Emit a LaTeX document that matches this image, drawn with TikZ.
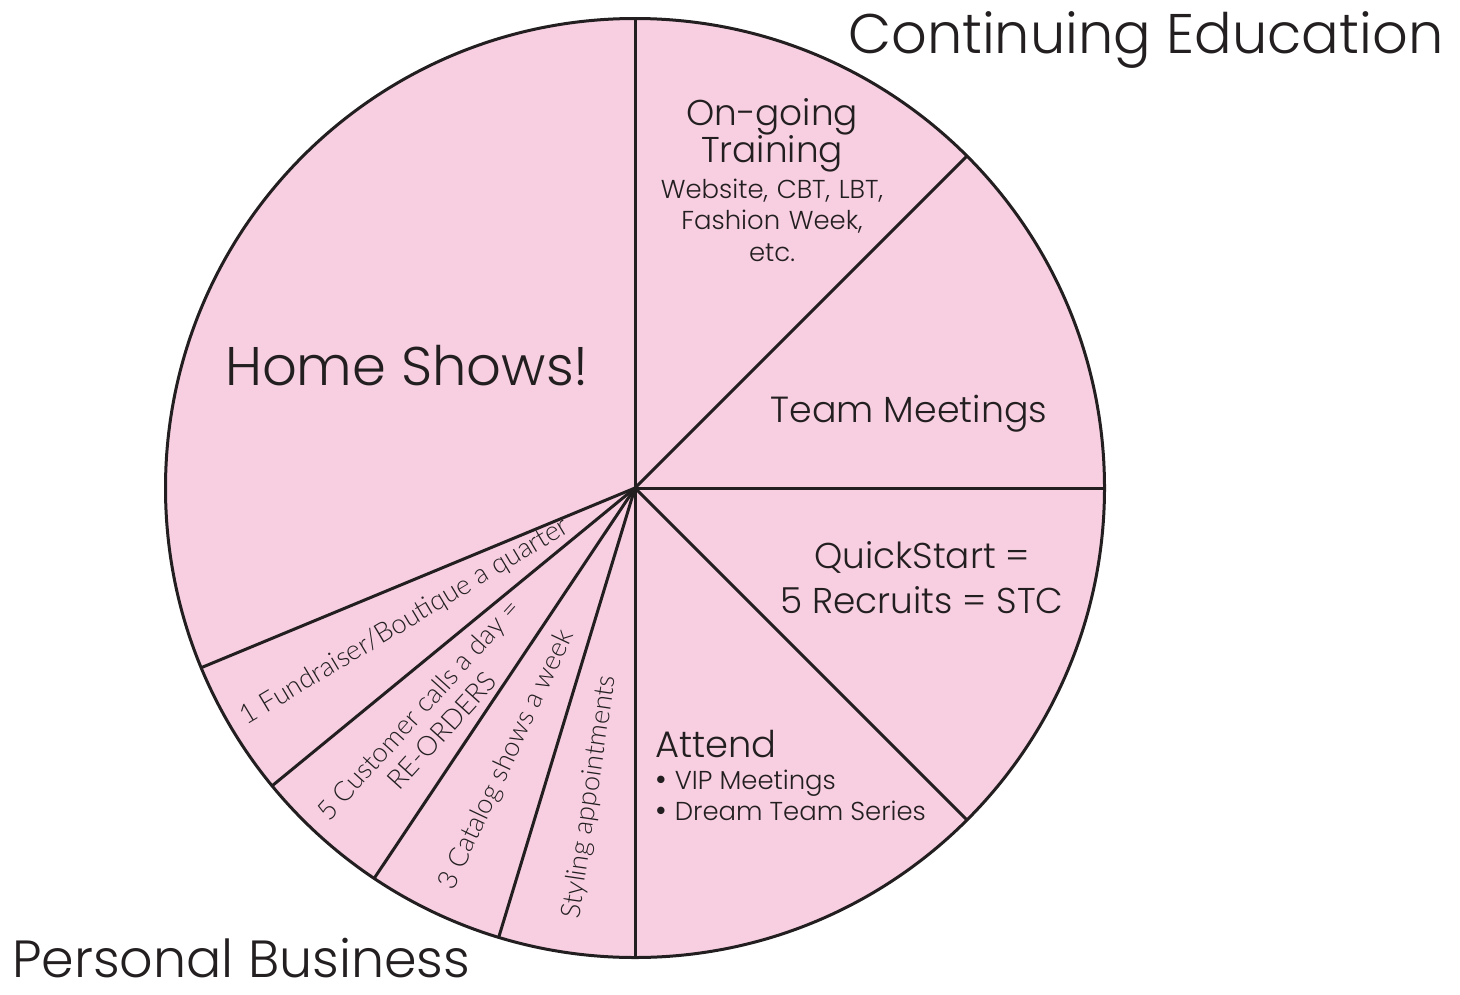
\documentclass[tikz,border=0pt]{standalone}
\usepackage{fontspec}
\setmainfont{Poppins}[UprightFont=* Light]
\newfontfamily\humfont{Lato}[UprightFont=* Light]
\usetikzlibrary{calc}
\definecolor{piepink}{RGB}{247,207,225}
\definecolor{ink}{RGB}{35,31,32}
\newcommand{\fs}[1]{\fontsize{#1}{1.1\dimexpr#1pt\relax}\selectfont}
\newcommand{\bulletitem}{{\fontsize{32}{32}\selectfont\raisebox{-1.5bp}{\textbullet}}\hspace{8bp}}
\begin{document}
\begin{tikzpicture}[x=1bp,y=1bp,
  wedge/.style={draw=ink,line width=3bp},
  txt/.style={text=ink,inner sep=0pt,align=center},
  slim/.style={txt,font=\humfont\fs{27.3}}]
\useasboundingbox (0,0) rectangle (1460,-994);
\coordinate (c) at (635,-488);
% pie body and slice borders
\fill[piepink] (c) circle[radius=469.5];
\foreach \a in {90,45,0,-45,-90,-106.875,-123.75,-140.625,-157.5}
  \draw[wedge] (c) -- ++(\a:469.5);
\draw[wedge] (c) circle[radius=469.5];

% headings
\node[txt,anchor=base west,font=\fs{56}] (ce) at (848,-53) {Continuing Education};
\node[txt,anchor=base west,font=\fs{52.5}] (pb) at (12,-977) {Personal Business};

% large slices
\node[txt,anchor=base,font=\fs{54.6}] (home) at (407,-385) {Home Shows!};
\node[txt,anchor=base,font=\fs{36},text width=260bp] (train) at (772,-125)
  {On-going\\[-1.6bp]Training};
\node[txt,anchor=base,font=\fs{26},text width=260bp] (web) at (772,-198)
  {Website, CBT, LBT,\\[3.4bp]Fashion Week,\\[3.4bp]etc.};
\node[txt,anchor=base,font=\fs{36.5}] (team) at (909,-422) {Team Meetings};
\node[txt,anchor=base,font=\fs{36}] (qs) at (922,-568) {QuickStart =};
\node[txt,anchor=base,font=\fs{36}] (rec) at (922,-613) {5 Recruits = STC};
\node[txt,anchor=base west,font=\fs{37}] (att) at (655,-757) {Attend};
\node[txt,anchor=base west,font=\fs{26}] (vip) at (655,-789)
  {\bulletitem VIP Meetings};
\node[txt,anchor=base west,font=\fs{26}] (dts) at (655,-820)
  {\bulletitem Dream Team Series};

% narrow slices
\node[slim,rotate=30.94] (fund) at (405,-622) {1 Fundraiser/Boutique a quarter};
\node[slim,rotate=47.81] (calls) at (430,-720) {5 Customer calls a day =\\[1.5bp]RE-ORDERS};
\node[slim,rotate=64.69] (cat) at (507,-760) {3 Catalog shows a week};
\node[slim,rotate=81.56] (sty) at (590,-797) {Styling appointments};
\end{tikzpicture}
\end{document}
